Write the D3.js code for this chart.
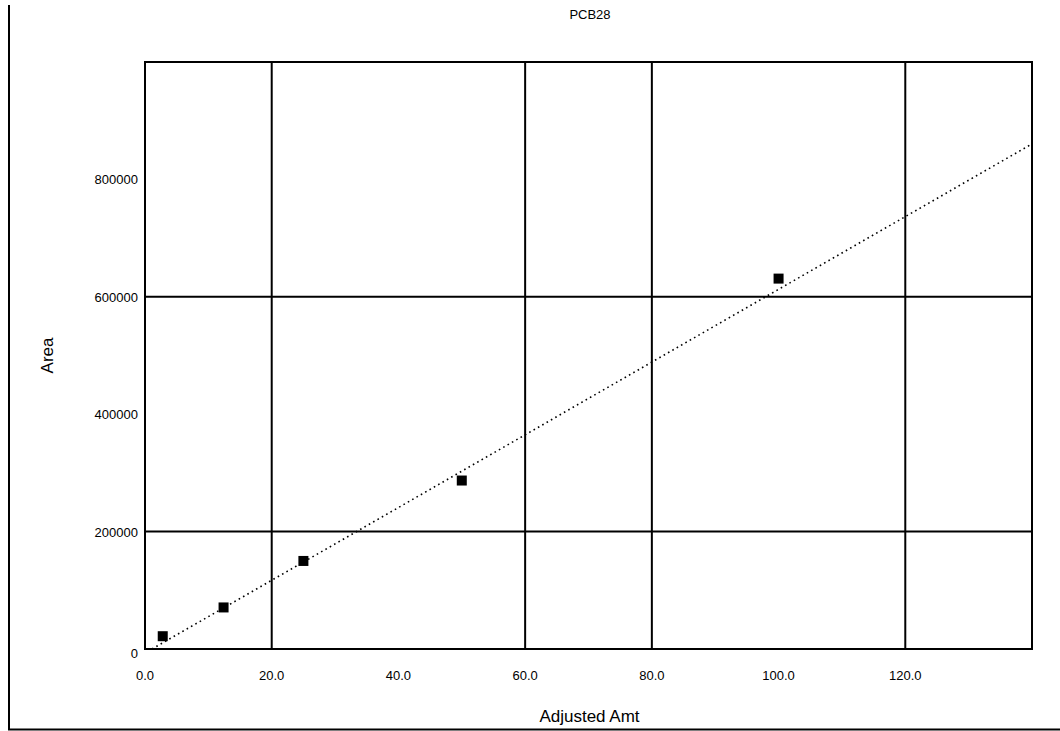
<!DOCTYPE html>
<html>
<head>
<meta charset="utf-8">
<script src="https://cdn.jsdelivr.net/npm/d3@7"></script>
<style>
  body { margin: 0; background: #fff; }
  svg { display: block; font-family: "Liberation Sans", Arial, sans-serif; }
</style>
</head>
<body>
<div id="chart"></div>
<script>
        const title = "PCB28";
        const xLabel = "Adjusted Amt";
        const yLabel = "Area";

        // calibration points
        const amt = [2.8, 12.4, 25, 50, 100];
        const area = [21800, 70800, 150000, 287000, 631000];

        // fitted line end points
        const fitX = [1.1, 140];
        const fitY = [0, 860500];

        const xTicks = [0, 20, 40, 60, 80, 100, 120];
        const yTicks = [0, 200000, 400000, 600000, 800000];
        const xGrid = [20, 60, 80, 120];
        const yGrid = [200000, 600000];

        const W = 1060, H = 731;
        const plot = { left: 145, right: 1032, top: 62, bottom: 649 };

        const svg = d3.select("#chart").append("svg")
            .attr("width", W)
            .attr("height", H);

        const x = d3.scaleLinear().domain([0, 140]).range([plot.left, plot.right]);
        const y = d3.scaleLinear().domain([0, 1000000]).range([plot.bottom, plot.top]);

        // outer border (left + bottom)
        svg.append("path")
            .attr("d", `M9,5 V729.5 H${W}`)
            .attr("fill", "none")
            .attr("stroke", "#000")
            .attr("stroke-width", 2);

        // grid
        svg.selectAll(".vgrid")
            .data(xGrid)
            .enter().append("line")
            .attr("x1", d => x(d)).attr("x2", d => x(d))
            .attr("y1", plot.top).attr("y2", plot.bottom)
            .attr("stroke", "#000").attr("stroke-width", 2);

        svg.selectAll(".hgrid")
            .data(yGrid)
            .enter().append("line")
            .attr("x1", plot.left).attr("x2", plot.right)
            .attr("y1", d => y(d)).attr("y2", d => y(d))
            .attr("stroke", "#000").attr("stroke-width", 2);

        // plot frame
        svg.append("rect")
            .attr("x", plot.left)
            .attr("y", plot.top)
            .attr("width", plot.right - plot.left)
            .attr("height", plot.bottom - plot.top)
            .attr("fill", "none")
            .attr("stroke", "#000")
            .attr("stroke-width", 2);

        // tick labels
        svg.selectAll(".xtick")
            .data(xTicks)
            .enter().append("text")
            .attr("x", d => x(d))
            .attr("y", plot.bottom + 31)
            .attr("text-anchor", "middle")
            .style("font-size", "13px")
            .text(d => d.toFixed(1));

        svg.selectAll(".ytick")
            .data(yTicks)
            .enter().append("text")
            .attr("x", plot.left - 7)
            .attr("y", d => y(d) + (d === 0 ? 9 : 5))
            .attr("text-anchor", "end")
            .style("font-size", "13px")
            .text(d => d);

        // fitted line
        const line = d3.line().x(d => x(d[0])).y(d => y(d[1]));
        svg.append("path")
            .datum(fitX.map((v, i) => [v, fitY[i]]))
            .attr("d", line)
            .attr("fill", "none")
            .attr("stroke", "#000")
            .attr("stroke-width", 1.6)
            .attr("stroke-dasharray", "1.6,3.4");

        // points
        const sz = 10;
        svg.selectAll(".pt")
            .data(amt.map((v, i) => [v, area[i]]))
            .enter().append("rect")
            .attr("x", d => x(d[0]) - sz / 2)
            .attr("y", d => y(d[1]) - sz / 2)
            .attr("width", sz)
            .attr("height", sz)
            .attr("fill", "#000");

        // titles
        svg.append("text")
            .attr("x", 590).attr("y", 19)
            .attr("text-anchor", "middle")
            .style("font-size", "13px")
            .text(title);

        svg.append("text")
            .attr("x", (plot.left + plot.right) / 2 + 1).attr("y", 722)
            .attr("text-anchor", "middle")
            .style("font-size", "17px")
            .text(xLabel);

        svg.append("text")
            .attr("transform", `translate(53, ${(plot.top + plot.bottom) / 2}) rotate(-90)`)
            .attr("text-anchor", "middle")
            .style("font-size", "17px")
            .text(yLabel);
</script>
</body>
</html>
